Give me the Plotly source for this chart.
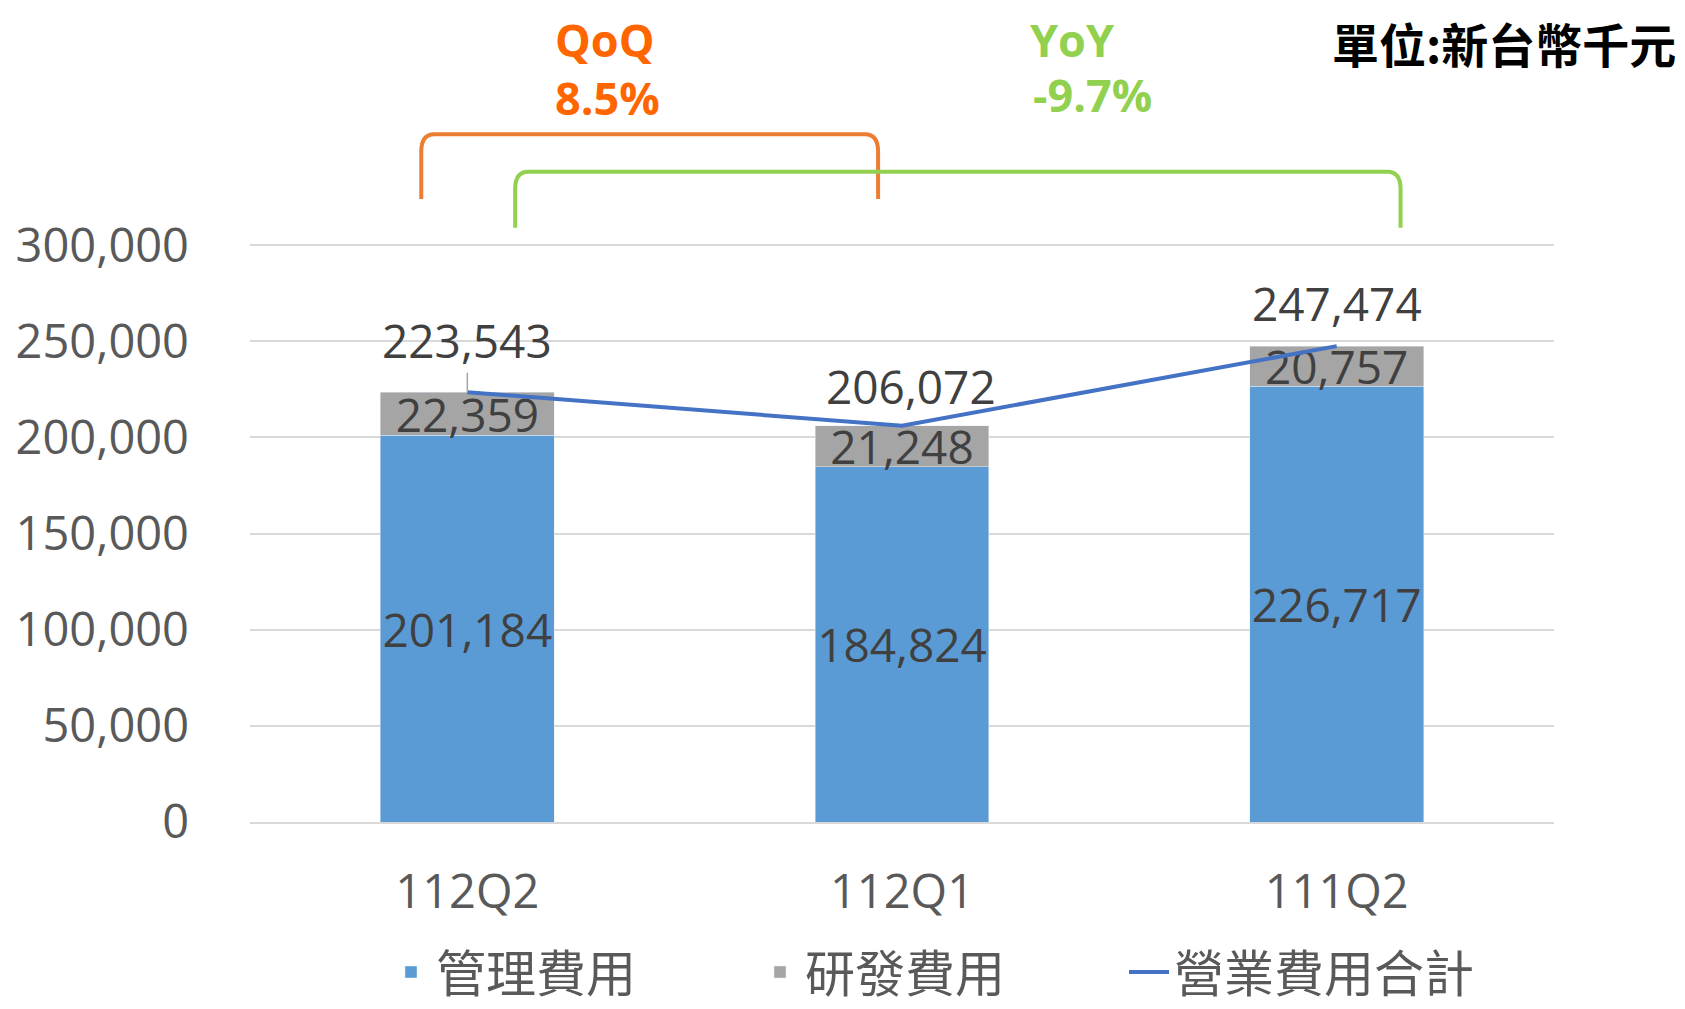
import plotly.graph_objects as go

quarters = ["112Q2", "112Q1", "111Q2"]
admin_exp = [201184, 184824, 226717]      # 管理費用
rd_exp = [22359, 21248, 20757]            # 研發費用
total_exp = [223543, 206072, 247474]      # 營業費用合計
y_ticks = [0, 50000, 100000, 150000, 200000, 250000, 300000]

NUM_FONT = "Open Sans"
CJK_FONT = "Noto Sans CJK TC"
LABEL_SIZE = 46

fig = go.Figure()
fig.add_trace(go.Bar(
    x=quarters, y=admin_exp, name="管理費用", marker_color="#5B9BD5",
    text=[f"{v:,}" for v in admin_exp], textposition="inside",
    insidetextanchor="middle", constraintext="none", textangle=0,
    textfont=dict(family=NUM_FONT, size=LABEL_SIZE, color="#404040"),
))
fig.add_trace(go.Bar(
    x=quarters, y=rd_exp, name="研發費用", marker_color="#A5A5A5",
    text=[f"{v:,}" for v in rd_exp], textposition="inside",
    insidetextanchor="middle", constraintext="none", textangle=0,
    textfont=dict(family=NUM_FONT, size=LABEL_SIZE, color="#404040"),
))
fig.add_trace(go.Scatter(
    x=quarters, y=total_exp, name="營業費用合計", mode="lines",
    line=dict(color="#4472C4", width=4),
))

# total labels above the line points
offsets = [(0, -52, True), (9, -40, False), (0, -43, False)]
for q, v, (dx, dy, arrow) in zip(quarters, total_exp, offsets):
    if arrow:
        fig.add_annotation(x=q, y=v, text=f"{v:,}", showarrow=True, arrowhead=0,
                           arrowwidth=1.5, arrowcolor="#A6A6A6", ax=dx, ay=dy,
                           font=dict(family=NUM_FONT, size=LABEL_SIZE, color="#404040"))
    else:
        fig.add_annotation(x=q, y=v, text=f"{v:,}", showarrow=False,
                           xshift=dx, yshift=-dy,
                           font=dict(family=NUM_FONT, size=LABEL_SIZE, color="#404040"))

# QoQ / YoY brackets
def bracket(x0, x1, ytop, ybot):
    r = 0.03
    ry = 0.03
    return (f"M {x0},{ybot} L {x0},{ytop - ry} Q {x0},{ytop} {x0 + r},{ytop} "
            f"L {x1 - r},{ytop} Q {x1},{ytop} {x1},{ytop - ry} L {x1},{ybot}")

fig.add_shape(type="path", xref="x", yref="paper",
              path=bracket(-0.106, 0.945, 1.190, 1.078),
              line=dict(color="#ED7D31", width=4))
fig.add_shape(type="path", xref="x", yref="paper",
              path=bracket(0.110, 2.147, 1.125, 1.028),
              line=dict(color="#92D050", width=4))

OFF = 8  # page body margin
W, H = 1685 - OFF, 1009 - OFF
L, R, T, B = 250 - OFF, 131, 244 - OFF, 187
pw, ph = W - L - R, H - T - B

def px(x):
    return (x - OFF - L) / pw

def py(y):
    return (H - B - (y - OFF)) / ph

for txt, x, y, col in [("QoQ", 605, 40, "#FF6600"), ("8.5%", 607, 98, "#FF6600"),
                       ("YoY", 1072, 39, "#92D050"), ("-9.7%", 1092, 95, "#92D050")]:
    fig.add_annotation(x=px(x), y=py(y), xref="paper", yref="paper", text=f"<b>{txt}</b>",
                       showarrow=False, xanchor="center", yanchor="middle",
                       font=dict(family=NUM_FONT, size=45, color=col))

fig.add_annotation(x=px(1678), y=py(43), xref="paper", yref="paper",
                   text="<b>單位:新台幣千元</b>", showarrow=False,
                   xanchor="right", yanchor="middle",
                   font=dict(family=CJK_FONT, size=47, color="#000000"))

fig.update_layout(
    width=W, height=H,
    barmode="stack", bargap=0.6,
    paper_bgcolor="white", plot_bgcolor="white",
    margin=dict(l=L, r=R, t=T, b=B, autoexpand=False),
    legend=dict(orientation="h", x=px(386), xanchor="left", y=py(972), yanchor="middle",
                entrywidth=314, itemwidth=40,
                font=dict(family=CJK_FONT, size=50, color="#595959"),
                traceorder="normal"),
)
fig.update_yaxes(range=[0, 300600], tickvals=y_ticks, tickformat=",",
                 showgrid=True, gridcolor="#D9D9D9", gridwidth=2,
                 zeroline=False, showline=False, ticks="", ticklabelstandoff=60,
                 tickfont=dict(family=NUM_FONT, size=47, color="#595959"))
fig.update_xaxes(showline=True, linecolor="#D9D9D9", linewidth=2, ticks="",
                 ticklabelstandoff=28,
                 tickfont=dict(family=NUM_FONT, size=47, color="#595959"))

fig.write_html("out.html")
